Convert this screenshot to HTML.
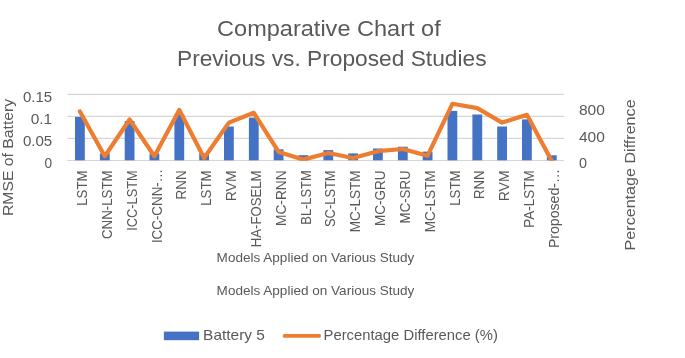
<!DOCTYPE html>
<html lang="en"><head><meta charset="utf-8"><title>Comparative Chart of Previous vs. Proposed Studies</title>
<style>
html,body{margin:0;padding:0;background:#fff;}
body{width:685px;height:358px;overflow:hidden;}
svg{display:block;}
text{font-family:"Liberation Sans",sans-serif;fill:#595959;}
.t{font-size:21.3px;}
.k{font-size:13.8px;}
.c{font-size:13.8px;}
.a{font-size:14.8px;}
.x{font-size:12.6px;}
.l{font-size:14.2px;}
</style></head><body>
<svg width="685" height="358" viewBox="0 0 685 358">
<rect x="0" y="0" width="685" height="358" fill="#ffffff"/>
<text class="t" x="217.1" y="35.9" textLength="223.6" lengthAdjust="spacingAndGlyphs">Comparative Chart of</text>
<text class="t" x="177.0" y="66.0" textLength="309.5" lengthAdjust="spacingAndGlyphs">Previous vs. Proposed Studies</text>
<line x1="67.5" y1="160.5" x2="564.2" y2="160.5" stroke="#d6d6d6" stroke-width="1.2"/>
<line x1="67.5" y1="138.4" x2="564.2" y2="138.4" stroke="#d6d6d6" stroke-width="1.2"/>
<line x1="67.5" y1="116.4" x2="564.2" y2="116.4" stroke="#d6d6d6" stroke-width="1.2"/>
<line x1="67.5" y1="94.3" x2="564.2" y2="94.3" stroke="#d6d6d6" stroke-width="1.2"/>
<rect x="75.0" y="116.9" width="9.8" height="43.4" fill="#4472c4"/>
<rect x="99.9" y="153.5" width="9.8" height="6.8" fill="#4472c4"/>
<rect x="124.7" y="121.0" width="9.8" height="39.3" fill="#4472c4"/>
<rect x="149.5" y="153.5" width="9.8" height="6.8" fill="#4472c4"/>
<rect x="174.4" y="114.3" width="9.8" height="46.0" fill="#4472c4"/>
<rect x="199.2" y="153.5" width="9.8" height="6.8" fill="#4472c4"/>
<rect x="224.0" y="126.5" width="9.8" height="33.8" fill="#4472c4"/>
<rect x="248.9" y="117.6" width="9.8" height="42.7" fill="#4472c4"/>
<rect x="273.7" y="149.3" width="9.8" height="11.0" fill="#4472c4"/>
<rect x="298.5" y="155.2" width="9.8" height="5.1" fill="#4472c4"/>
<rect x="323.4" y="150.1" width="9.8" height="10.2" fill="#4472c4"/>
<rect x="348.2" y="153.4" width="9.8" height="6.9" fill="#4472c4"/>
<rect x="373.0" y="148.5" width="9.8" height="11.8" fill="#4472c4"/>
<rect x="397.9" y="146.7" width="9.8" height="13.6" fill="#4472c4"/>
<rect x="422.7" y="151.6" width="9.8" height="8.7" fill="#4472c4"/>
<rect x="447.5" y="110.9" width="9.8" height="49.4" fill="#4472c4"/>
<rect x="472.4" y="114.5" width="9.8" height="45.8" fill="#4472c4"/>
<rect x="497.2" y="126.5" width="9.8" height="33.8" fill="#4472c4"/>
<rect x="522.0" y="119.4" width="9.8" height="40.9" fill="#4472c4"/>
<rect x="546.9" y="155.3" width="9.8" height="5.0" fill="#4472c4"/>
<clipPath id="pc"><rect x="61.5" y="80" width="508.7" height="80.7"/></clipPath>
<polyline clip-path="url(#pc)" points="79.9,111.4 104.8,156.2 129.6,119.5 154.4,156.2 179.3,109.9 204.1,158.0 228.9,122.6 253.8,112.8 278.6,151.9 303.4,159.6 328.3,153.0 353.1,158.0 377.9,151.2 402.8,149.0 427.6,155.7 452.4,103.8 477.3,108.1 502.1,122.6 526.9,114.8 551.8,161.0" fill="none" stroke="#ed7d31" stroke-width="4.2" stroke-linecap="round" stroke-linejoin="round"/>
<text class="k" x="52.2" y="101.6" textLength="29.3" lengthAdjust="spacingAndGlyphs" text-anchor="end">0.15</text>
<text class="k" x="52.2" y="123.7" textLength="21.5" lengthAdjust="spacingAndGlyphs" text-anchor="end">0.1</text>
<text class="k" x="52.2" y="145.7" textLength="29.3" lengthAdjust="spacingAndGlyphs" text-anchor="end">0.05</text>
<text class="k" x="52.2" y="167.8" textLength="7.6" lengthAdjust="spacingAndGlyphs" text-anchor="end">0</text>
<text class="k" x="578.9" y="115.2" textLength="25.9" lengthAdjust="spacingAndGlyphs">800</text>
<text class="k" x="578.9" y="141.7" textLength="25.9" lengthAdjust="spacingAndGlyphs">400</text>
<text class="k" x="578.9" y="168.2" textLength="8.0" lengthAdjust="spacingAndGlyphs">0</text>
<text class="c" transform="translate(87.0,170.4) rotate(-90)" text-anchor="end" textLength="35.4" lengthAdjust="spacingAndGlyphs">LSTM</text>
<text class="c" transform="translate(111.9,170.4) rotate(-90)" text-anchor="end" textLength="68.6" lengthAdjust="spacingAndGlyphs">CNN-LSTM</text>
<text class="c" transform="translate(136.7,170.4) rotate(-90)" text-anchor="end" textLength="60.3" lengthAdjust="spacingAndGlyphs">ICC-LSTM</text>
<text class="c" transform="translate(161.5,168.9) rotate(-90)" text-anchor="end" textLength="74.2" lengthAdjust="spacingAndGlyphs">ICC-CNN-…</text>
<text class="c" transform="translate(186.4,170.4) rotate(-90)" text-anchor="end" textLength="29.0" lengthAdjust="spacingAndGlyphs">RNN</text>
<text class="c" transform="translate(211.2,170.4) rotate(-90)" text-anchor="end" textLength="35.4" lengthAdjust="spacingAndGlyphs">LSTM</text>
<text class="c" transform="translate(236.0,170.4) rotate(-90)" text-anchor="end" textLength="30.9" lengthAdjust="spacingAndGlyphs">RVM</text>
<text class="c" transform="translate(260.9,170.4) rotate(-90)" text-anchor="end" textLength="76.9" lengthAdjust="spacingAndGlyphs">HA-FOSELM</text>
<text class="c" transform="translate(285.7,170.4) rotate(-90)" text-anchor="end" textLength="55.6" lengthAdjust="spacingAndGlyphs">MC-RNN</text>
<text class="c" transform="translate(310.5,170.4) rotate(-90)" text-anchor="end" textLength="54.3" lengthAdjust="spacingAndGlyphs">BL-LSTM</text>
<text class="c" transform="translate(335.4,170.4) rotate(-90)" text-anchor="end" textLength="56.6" lengthAdjust="spacingAndGlyphs">SC-LSTM</text>
<text class="c" transform="translate(360.2,170.4) rotate(-90)" text-anchor="end" textLength="61.8" lengthAdjust="spacingAndGlyphs">MC-LSTM</text>
<text class="c" transform="translate(385.0,170.4) rotate(-90)" text-anchor="end" textLength="55.6" lengthAdjust="spacingAndGlyphs">MC-GRU</text>
<text class="c" transform="translate(409.9,170.4) rotate(-90)" text-anchor="end" textLength="53.0" lengthAdjust="spacingAndGlyphs">MC-SRU</text>
<text class="c" transform="translate(434.7,170.4) rotate(-90)" text-anchor="end" textLength="61.8" lengthAdjust="spacingAndGlyphs">MC-LSTM</text>
<text class="c" transform="translate(459.5,170.4) rotate(-90)" text-anchor="end" textLength="35.4" lengthAdjust="spacingAndGlyphs">LSTM</text>
<text class="c" transform="translate(484.4,170.4) rotate(-90)" text-anchor="end" textLength="28.6" lengthAdjust="spacingAndGlyphs">RNN</text>
<text class="c" transform="translate(509.2,170.4) rotate(-90)" text-anchor="end" textLength="30.9" lengthAdjust="spacingAndGlyphs">RVM</text>
<text class="c" transform="translate(534.0,170.4) rotate(-90)" text-anchor="end" textLength="57.3" lengthAdjust="spacingAndGlyphs">PA-LSTM</text>
<text class="c" transform="translate(558.9,168.9) rotate(-90)" text-anchor="end" textLength="79.2" lengthAdjust="spacingAndGlyphs">Proposed-…</text>
<text class="a" transform="translate(12.6,216.1) rotate(-90)" textLength="117.3" lengthAdjust="spacingAndGlyphs">RMSE of Battery</text>
<text class="a" transform="translate(635.1,250.4) rotate(-90)" textLength="151.0" lengthAdjust="spacingAndGlyphs">Percentage Diffrence</text>
<text class="x" x="216.6" y="262.0" textLength="197.8" lengthAdjust="spacingAndGlyphs">Models Applied on Various Study</text>
<text class="x" x="216.6" y="295.0" textLength="197.8" lengthAdjust="spacingAndGlyphs">Models Applied on Various Study</text>
<rect x="163.9" y="331.6" width="35.2" height="8.6" fill="#4472c4"/>
<text class="l" x="203.1" y="340.2" textLength="61.8" lengthAdjust="spacingAndGlyphs">Battery 5</text>
<line x1="284.6" y1="335.9" x2="319.1" y2="335.9" stroke="#ed7d31" stroke-width="3.9" stroke-linecap="round"/>
<text class="l" x="323.5" y="340.2" textLength="174.4" lengthAdjust="spacingAndGlyphs">Percentage Difference (%)</text>
</svg>
</body></html>
